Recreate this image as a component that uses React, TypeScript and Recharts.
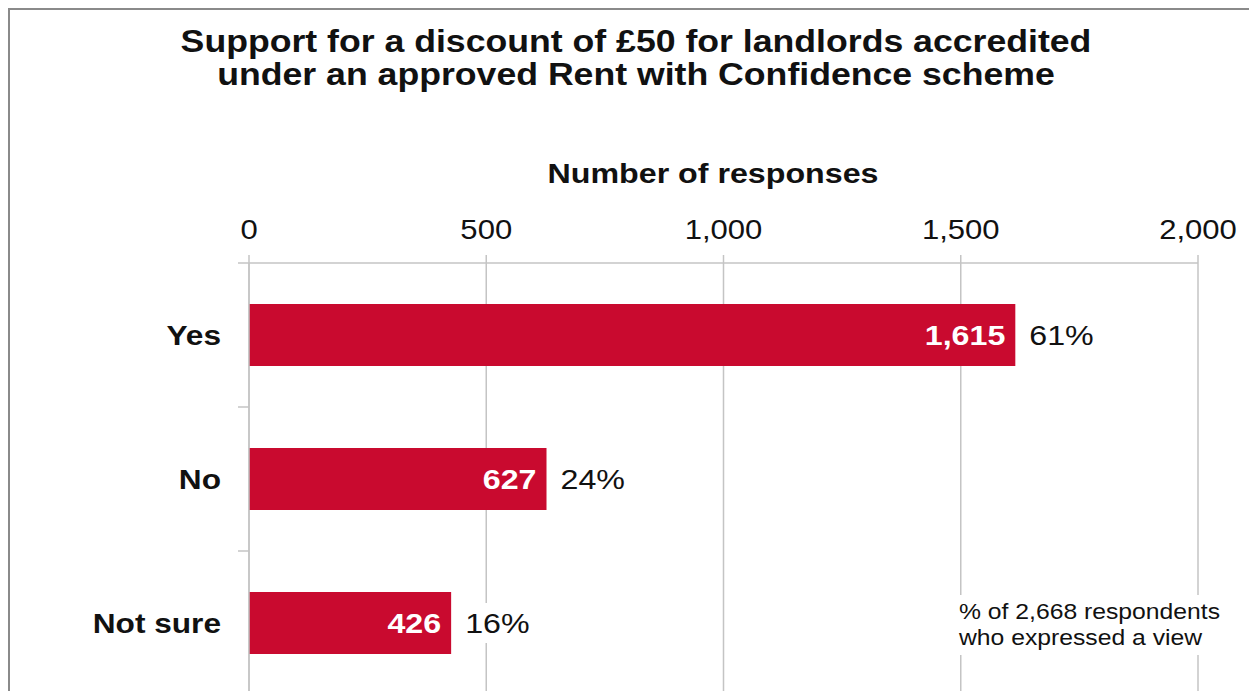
import React from "react";
import { BarChart, Bar, XAxis, YAxis, CartesianGrid, LabelList } from "recharts";

const categories = ["Yes", "No", "Not sure"];
const responses = [1615, 627, 426];
const percentLabels = ["61%", "24%", "16%"];
const xTicks = [0, 500, 1000, 1500, 2000];
const titleLines = [
  "Support for a discount of £50 for landlords accredited",
  "under an approved Rent with Confidence scheme",
];
const axisTitle = "Number of responses";
const noteLines = ["% of 2,668 respondents", "who expressed a view"];

const data = categories.map((c, i) => ({
  category: c,
  responses: responses[i],
  pct: percentLabels[i],
}));

const SX = 1.15;
const FONT = "'Liberation Sans', Arial, sans-serif";
const BAR = "#C90A2F";
const GRID = "#c4c4c4";
const Y_MARGIN = 28;
const BOUND_TICK = 11;

const fmt = (v: number) => v.toLocaleString("en-GB");

function SText(props: any) {
  const { x, y, anchor = "start", size, weight = "normal", fill = "#111", children } = props;
  return (
    <text
      transform={`translate(${x} ${y}) scale(${SX} 1)`}
      x={0}
      y={0}
      textAnchor={anchor}
      fontSize={size}
      fontWeight={weight}
      fontFamily={FONT}
      fill={fill}
    >
      {children}
    </text>
  );
}

const XTick = (p: any) => (
  <SText x={p.x} y={p.y} anchor="middle" size={27}>
    {fmt(p.payload.value)}
  </SText>
);

const YTick = (p: any) => {
  const axisX = p.x + Y_MARGIN;
  const half = p.payload && p.payload.offset ? p.payload.offset : 72;
  const isLast = p.index === categories.length - 1;
  return (
    <g>
      <line x1={axisX - BOUND_TICK} x2={axisX} y1={p.y - half} y2={p.y - half} stroke={GRID} strokeWidth={1.5} />
      {isLast && (
        <line x1={axisX - BOUND_TICK} x2={axisX} y1={p.y + half} y2={p.y + half} stroke={GRID} strokeWidth={1.5} />
      )}
      <SText x={p.x} y={p.y + 10} anchor="end" size={27.5} weight="bold">
        {p.payload.value}
      </SText>
    </g>
  );
};

const ValueLabel = (p: any) => {
  const { x, y, width, height, value } = p;
  return (
    <SText x={x + width - 10} y={y + height / 2 + 10} anchor="end" size={28} weight="bold" fill="#fff">
      {fmt(Number(value))}
    </SText>
  );
};

const PctLabel = (p: any) => {
  const { x, y, width, height, value } = p;
  const lx = x + width + 14;
  const cy = y + height / 2;
  return (
    <g>
      <rect x={lx - 6} y={cy - 20} width={String(value).length * 19 + 14} height={40} fill="#fff" />
      <SText x={lx} y={cy + 10} size={28}>
        {value}
      </SText>
    </g>
  );
};

export default function App() {
  return (
    <div style={{ position: "absolute", left: 0, top: 0, width: 1249, height: 691, overflow: "hidden", background: "#fff" }}>
      <div
        style={{
          position: "absolute",
          left: 8,
          top: 8,
          width: 1400,
          height: 1000,
          borderTop: "2px solid #8a8a8a",
          borderLeft: "2px solid #8a8a8a",
          boxSizing: "border-box",
        }}
      />
      <div style={{ position: "absolute", left: 0, top: 0 }}>
        <BarChart
          width={1249}
          height={700}
          data={data}
          layout="vertical"
          margin={{ top: 223, right: 51, bottom: 5, left: 0 }}
          barSize={62}
        >
          <CartesianGrid horizontal={false} vertical stroke={GRID} strokeWidth={1.5} />
          <XAxis
            type="number"
            orientation="top"
            domain={[0, 2000]}
            ticks={xTicks}
            height={40}
            tickSize={8}
            tickMargin={16}
            axisLine={{ stroke: GRID, strokeWidth: 1.5 }}
            tickLine={{ stroke: GRID, strokeWidth: 1.5 }}
            tick={<XTick />}
            interval={0}
          />
          <YAxis
            type="category"
            dataKey="category"
            width={249}
            tickSize={0}
            tickMargin={Y_MARGIN}
            axisLine={{ stroke: GRID, strokeWidth: 1.5 }}
            tickLine={false}
            tick={<YTick />}
            interval={0}
          />
          <Bar dataKey="responses" fill={BAR} isAnimationActive={false}>
            <LabelList dataKey="responses" content={<ValueLabel />} />
            <LabelList dataKey="pct" content={<PctLabel />} />
          </Bar>
        </BarChart>
      </div>
      <svg width={1249} height={691} style={{ position: "absolute", left: 0, top: 0, pointerEvents: "none" }}>
        {titleLines.map((t, i) => (
          <SText key={t} x={636} y={52 + i * 33} anchor="middle" size={31} weight="bold">
            {t}
          </SText>
        ))}
        <SText x={713} y={183} anchor="middle" size={28} weight="bold">
          {axisTitle}
        </SText>
        <rect x={952} y={595} width={280} height={60} fill="#fff" />
        {noteLines.map((t, i) => (
          <SText key={t} x={959} y={619 + i * 26} size={21.5}>
            {t}
          </SText>
        ))}
      </svg>
    </div>
  );
}
